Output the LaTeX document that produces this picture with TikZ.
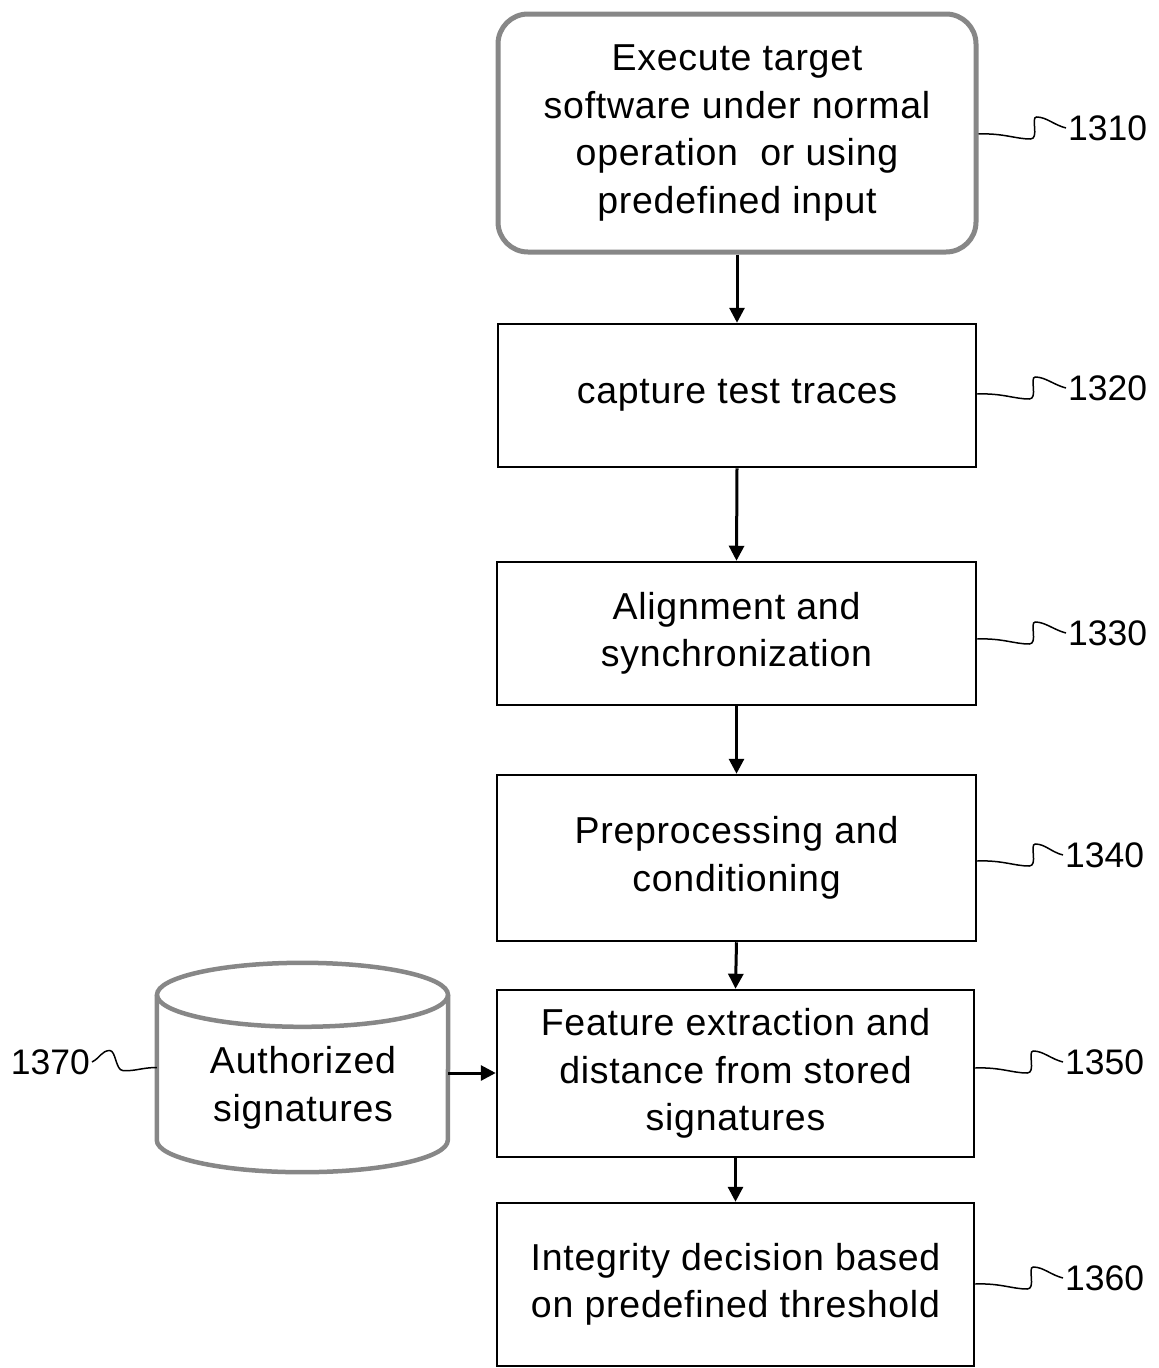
\documentclass[tikz,border=0pt]{standalone}
\usepackage{fontspec}
\setmainfont{Liberation Sans}
\newfontfamily\boxfont[LetterSpace=2]{Liberation Sans}
\usetikzlibrary{arrows.meta,calc}
\definecolor{edgegray}{RGB}{135,135,135}
\begin{document}
\begin{tikzpicture}[x=1pt,y=-1pt,
  stepbox/.style={draw=black, line width=2.5pt, fill=white, inner sep=0pt,
    minimum width=478pt, align=center,
    font=\boxfont\fontsize{37.5}{47.5}\selectfont},
  roundbox/.style={stepbox, draw=edgegray, line width=5pt, rounded corners=30pt},
  lab/.style={inner sep=2pt, font=\fontsize{35.5}{40}\selectfont},
  flow/.style={line width=3pt, -{Triangle[length=15pt,width=15pt]}},
  squig/.style={line width=1.5pt},
  cylline/.style={draw=edgegray, line width=4.5pt},
  cyltext/.style={inner sep=0pt, align=center, font=\boxfont\fontsize{37.5}{47.5}\selectfont}
]
\useasboundingbox (0,0) rectangle (1159,1368);

% boxes
\node[roundbox, minimum height=238pt] (b1) at (737,133)
  {Execute target\\software under normal\\operation\ \ or using\\predefined input};
\node[stepbox, minimum height=143pt] (b2) at (737,395.5) {capture test traces};
\node[stepbox, minimum width=479pt, minimum height=143pt] (b3) at (736.5,633.5)
  {Alignment and\\synchronization};
\node[stepbox, minimum width=479pt, minimum height=166pt] (b4) at (736.5,858)
  {Preprocessing and\\conditioning};
\node[stepbox, minimum width=477pt, minimum height=167pt] (b5) at (735.5,1073.5)
  {Feature extraction and\\distance from stored\\signatures};
\node[stepbox, minimum width=477pt, minimum height=163pt] (b6) at (735.5,1284.5)
  {Integrity decision based\\on predefined threshold};

% cylinder
\node[inner sep=0pt, minimum width=291pt, minimum height=145pt] (cyl) at (302.5,1067.5) {};
\draw[cylline]
  (cyl.north west) -- (cyl.south west)
  arc[start angle=180, end angle=360, x radius=145.5pt, y radius=32pt]
  -- (cyl.north east);
\draw[cylline] (cyl.north) ellipse[x radius=145.5pt, y radius=32pt];
\node[cyltext] (ct) at (303,1088) {Authorized\\signatures};

% flow arrows
\draw[flow] (b1.south) -- (b2.north);
\draw[flow] (b2.south) -- (b3.north);
\draw[flow] (b3.south) -- (b4.north);
\draw[flow] (b4.south) -- (b5.north);
\draw[flow] (b5.south) -- (b6.north);
\draw[flow] (cyl.east |- 0,1073) coordinate (cs) -- (b5.west |- cs);

% labels
\node[lab, anchor=west] (l1) at (1066,128) {1310};
\node[lab, anchor=west] (l2) at (1066,388) {1320};
\node[lab, anchor=west] (l3) at (1066,633) {1330};
\node[lab, anchor=west] (l4) at (1063,855) {1340};
\node[lab, anchor=west] (l5) at (1063,1062) {1350};
\node[lab, anchor=west] (l6) at (1063,1278) {1360};
\node[lab, anchor=east] (l7) at (92,1062) {1370};

\foreach \b/\l in {b1/l1,b2/l2,b3/l3,b4/l4,b5/l5,b6/l6}{
  \draw[squig] ($(\b.east |- \l.west)+(0,6)$)
    .. controls +(25,-1) and +(-15,0) .. ++(52,5)
    .. controls +(9,0) and +(-6,0) .. ++(6,-22)
    .. controls +(10,0) and +(-12,-3) .. (\l.west);
}
\draw[squig] (cyl.west)
  .. controls +(-15,0) and +(12,1) .. ++(-34,3)
  .. controls +(-7,0) and +(6,0) .. ++(-13,-20)
  .. controls +(-8,0) and +(8,-4) .. (l7.east);
\end{tikzpicture}
\end{document}
